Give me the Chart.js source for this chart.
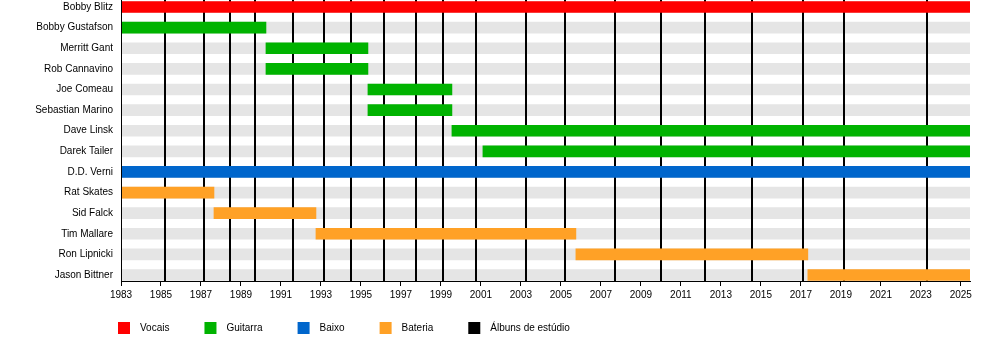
<!DOCTYPE html>
<html>
<head>
<meta charset="utf-8">
<title>Overkill - linha do tempo</title>
<script src="https://cdn.jsdelivr.net/npm/chart.js@4.4.1/dist/chart.umd.min.js"></script>
<style>
  html, body { margin: 0; padding: 0; background: #fff; }
  #wrap { width: 1000px; height: 340px; }
</style>
</head>
<body>
<div id="wrap"><canvas id="timeline" width="1000" height="340"></canvas></div>
<script>
// Members, top to bottom
const members = [
    'Bobby Blitz', 'Bobby Gustafson', 'Merritt Gant', 'Rob Cannavino',
    'Joe Comeau', 'Sebastian Marino', 'Dave Linsk', 'Darek Tailer',
    'D.D. Verni', 'Rat Skates', 'Sid Falck', 'Tim Mallare',
    'Ron Lipnicki', 'Jason Bittner'
];

// Role index for each member (see roles below)
const memberRole = [0, 1, 1, 1, 1, 1, 1, 1, 2, 3, 3, 3, 3, 3];

// Start / end of each membership, in decimal years
const TIMELINE_START = 1983;
const TIMELINE_END = 2025.46;
const startYears = [1983, 1983, 1990.25, 1990.25, 1995.35, 1995.35, 1999.55, 2001.1,
                    1983, 1983, 1987.65, 1992.75, 2005.75, 2017.35];
const endYears = [TIMELINE_END, 1990.25, 1995.35, 1995.35, 1999.55, 1999.55, TIMELINE_END, TIMELINE_END,
                  TIMELINE_END, 1987.65, 1992.75, 2005.75, 2017.35, TIMELINE_END];

const roles = ['Vocais', 'Guitarra', 'Baixo', 'Bateria'];
const roleColors = ['#ff0000', '#00b300', '#0066cc', '#ffa126'];

// Studio album release dates
const albumDates = [1985.21, 1987.13, 1988.47, 1989.72, 1991.62, 1993.17, 1994.52, 1996.17,
                    1997.74, 1999.11, 2000.75, 2003.23, 2005.23, 2007.73, 2010.0, 2012.2,
                    2014.55, 2017.1, 2019.14, 2023.29];

const tickYears = [1983, 1985, 1987, 1989, 1991, 1993, 1995, 1997, 1999, 2001, 2003,
                   2005, 2007, 2009, 2011, 2013, 2015, 2017, 2019, 2021, 2023, 2025];

const legendLabels = roles.concat(['Álbuns de estúdio']);
const legendColors = roleColors.concat(['#000000']);

const FONT = '"Liberation Sans", Arial, sans-serif';
Chart.defaults.font.family = FONT;
Chart.defaults.font.size = 10;
Chart.defaults.color = '#000';

const rows = members.map((_, i) => i);

// Grey backdrop row first (drawn underneath everything), then one dataset per role
const datasets = [{
    label: 'fundo',
    data: rows.map(i => ({ x: [TIMELINE_START, TIMELINE_END], y: i })),
    backgroundColor: '#e5e5e5',
    order: 1
}].concat(roles.map((role, r) => ({
    label: role,
    data: rows.filter(i => memberRole[i] === r).map(i => ({ x: [startYears[i], endYears[i]], y: i })),
    backgroundColor: roleColors[r],
    order: 0
})));

// Album lines sit on top of the grey rows but below the member bars
const albumLines = {
    id: 'albumLines',
    afterDatasetDraw(chart, args) {
        if (args.index !== 0) return;
        const { ctx, chartArea, scales: { x } } = chart;
        ctx.save();
        ctx.strokeStyle = '#000';
        ctx.lineWidth = 2;
        albumDates.forEach(d => {
            const px = Math.round(x.getPixelForValue(d));
            ctx.beginPath();
            ctx.moveTo(px, chartArea.top);
            ctx.lineTo(px, chartArea.bottom);
            ctx.stroke();
        });
        ctx.restore();
    }
};

// Single-row legend under the axis
const bottomLegend = {
    id: 'bottomLegend',
    afterDraw(chart) {
        const ctx = chart.ctx;
        let x = 118;
        const y = 328;
        ctx.save();
        ctx.font = '10px ' + FONT;
        ctx.textBaseline = 'middle';
        legendLabels.forEach((label, i) => {
            ctx.fillStyle = legendColors[i];
            ctx.fillRect(x, y - 6, 12, 12);
            ctx.fillStyle = '#000';
            ctx.fillText(label, x + 22, y);
            x += 22 + ctx.measureText(label).width + 35;
        });
        ctx.restore();
    }
};

new Chart(document.getElementById('timeline'), {
    type: 'bar',
    data: { datasets },
    plugins: [albumLines, bottomLegend],
    options: {
        indexAxis: 'y',
        responsive: false,
        animation: false,
        devicePixelRatio: 1,
        layout: { padding: { top: 0, right: 30, bottom: 0, left: 0 } },
        datasets: {
            bar: { barThickness: 11, grouped: false, borderWidth: 0, borderSkipped: false }
        },
        plugins: {
            legend: { display: false },
            tooltip: { enabled: false }
        },
        scales: {
            x: {
                type: 'linear',
                position: 'bottom',
                min: TIMELINE_START,
                max: TIMELINE_END,
                afterBuildTicks: axis => { axis.ticks = tickYears.map(v => ({ value: v })); },
                afterFit: axis => { axis.height = 59; },
                ticks: {
                    callback: v => String(v),
                    autoSkip: false,
                    maxRotation: 0,
                    padding: 3
                },
                grid: { drawOnChartArea: false, drawTicks: true, tickLength: 5, color: '#000' },
                border: { display: true, color: '#000', width: 1, z: 1 }
            },
            y: {
                type: 'linear',
                reverse: true,
                offset: false,
                min: -0.34,
                max: 13.29,
                afterBuildTicks: axis => { axis.ticks = rows.map(v => ({ value: v })); },
                afterFit: axis => {
                    axis.width = 121;
                    axis.paddingTop = 0;
                    axis.paddingBottom = 0;
                },
                ticks: {
                    callback: v => members[v],
                    autoSkip: false,
                    padding: 8
                },
                grid: { display: false, drawTicks: false },
                border: { display: true, color: '#000', width: 1, z: 1 }
            }
        }
    }
});
</script>
</body>
</html>
